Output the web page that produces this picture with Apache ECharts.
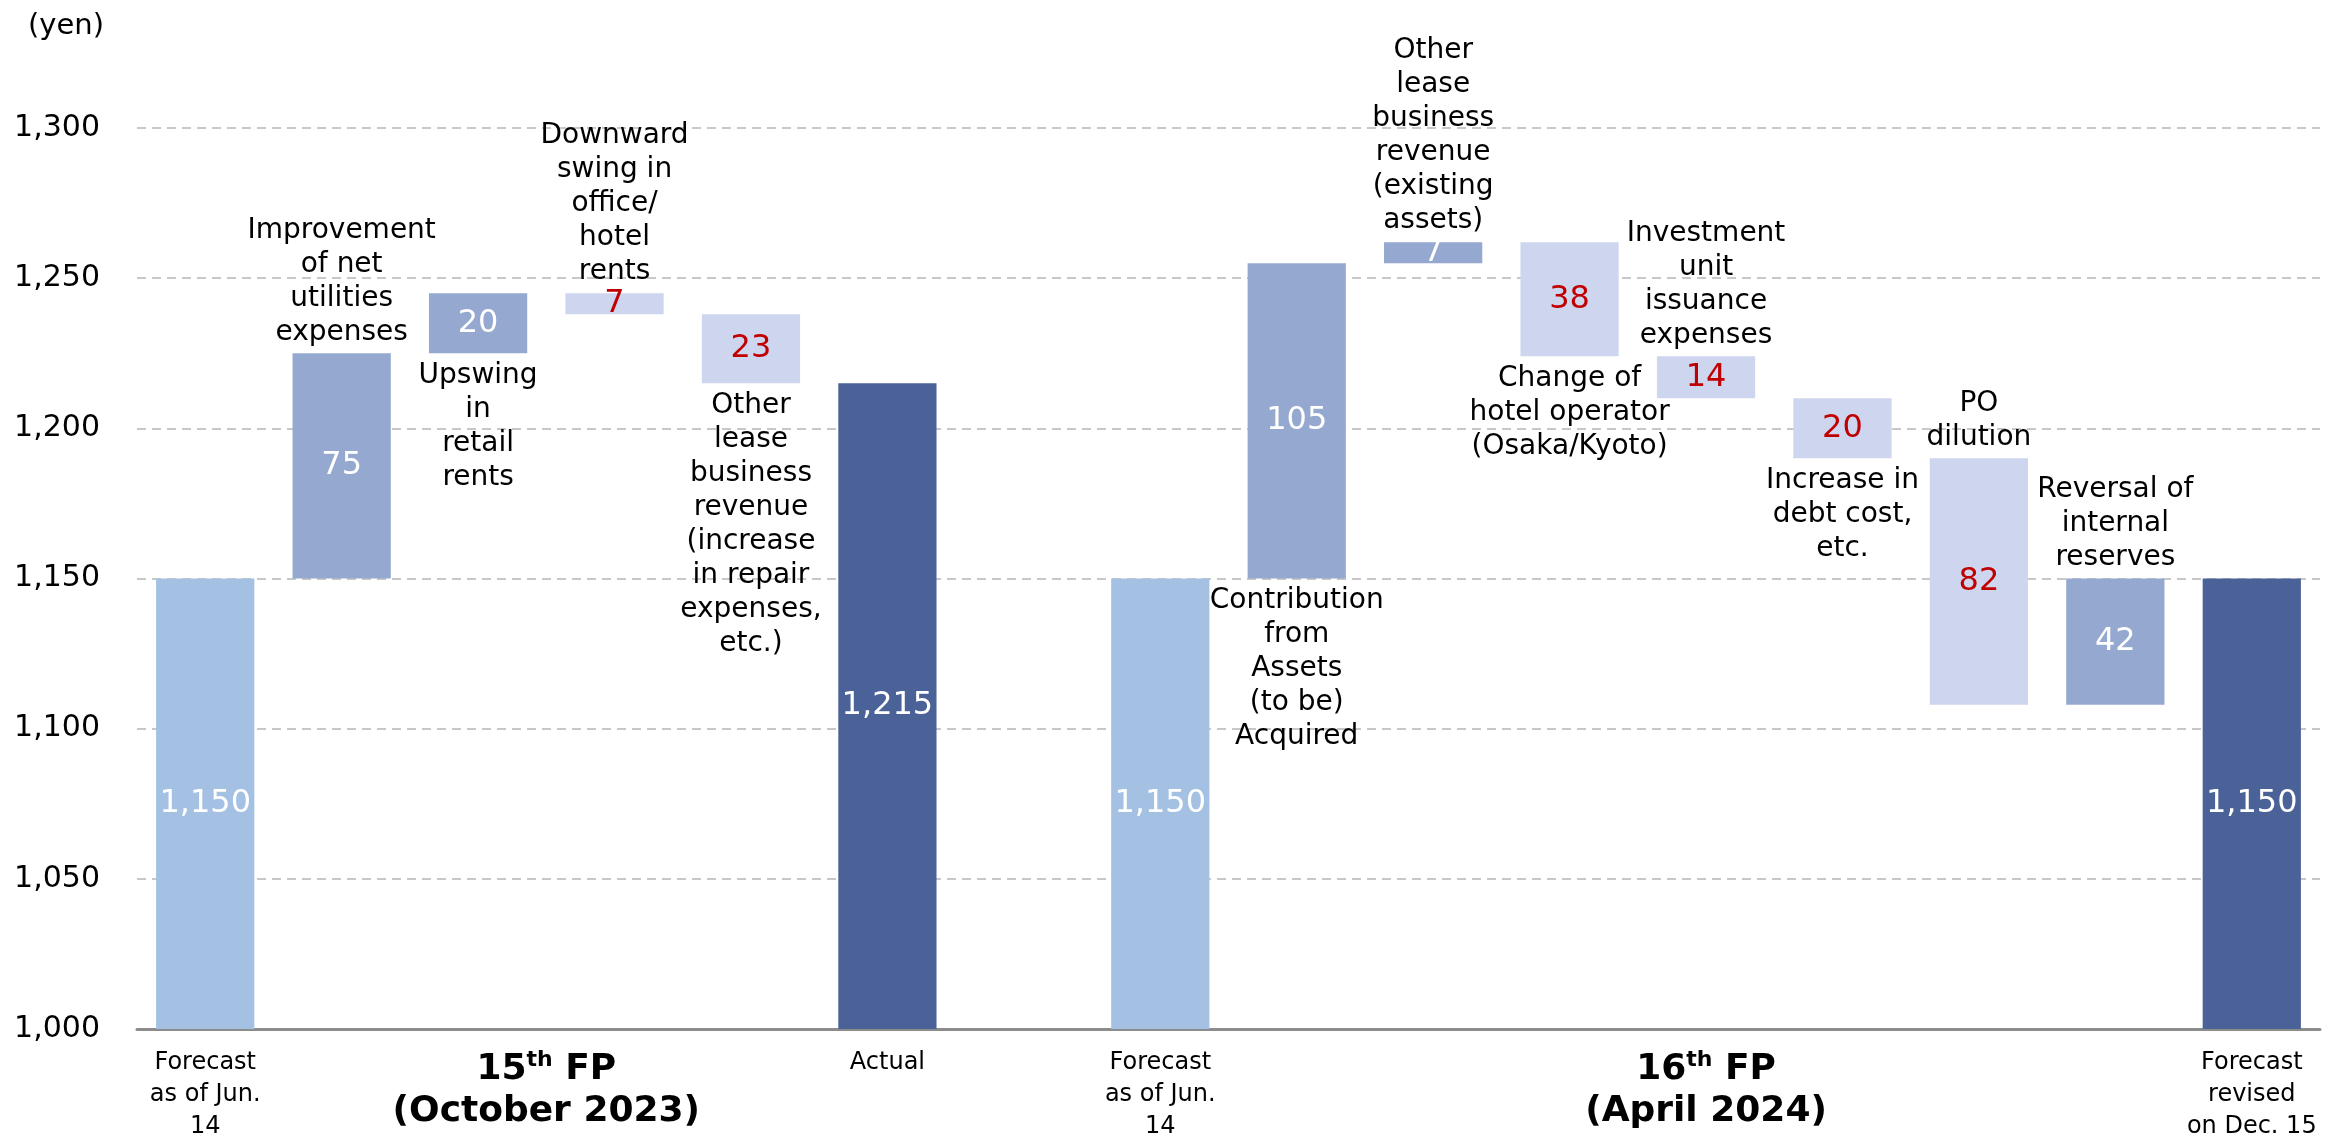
<!DOCTYPE html>
<html>
<head>
<meta charset="utf-8">
<script src="https://cdn.jsdelivr.net/npm/echarts@6/dist/echarts.min.js"></script>
<style>
  html, body { margin: 0; padding: 0; background: #ffffff; }
  #chart { width: 2331px; height: 1146px; }
</style>
</head>
<body>
<div id="chart"></div>
<script>
// Distribution per unit bridge, 15th FP -> 16th FP (yen)
const categories = [
  'Forecast\nas of Jun.\n14', '', '', '', '', 'Actual', '',
  'Forecast\nas of Jun.\n14', '', '', '', '', '', '', '', 'Forecast\nrevised\non Dec. 15'
];
// totals are absolute levels, the rest are changes
const steps = [1150, 75, 20, -7, -23, 1215, null, 1150, 105, 7, -38, -14, -20, -82, 42, 1150];
const kinds = ['start', 'up', 'up', 'down', 'down', 'total', null,
               'start', 'up', 'up', 'down', 'down', 'down', 'down', 'up', 'total'];
const annotations = [
  '', 'Improvement\nof net\nutilities\nexpenses', 'Upswing\nin\nretail\nrents',
  'Downward\nswing in\noffice/\nhotel\nrents',
  'Other\nlease\nbusiness\nrevenue\n(increase\nin repair\nexpenses,\netc.)',
  '', '', '',
  'Contribution\nfrom\nAssets\n(to be)\nAcquired',
  'Other\nlease\nbusiness\nrevenue\n(existing\nassets)',
  'Change of\nhotel operator\n(Osaka/Kyoto)',
  'Investment\nunit\nissuance\nexpenses',
  'Increase in\ndebt cost,\netc.', 'PO\ndilution', 'Reversal of\ninternal\nreserves', ''
];
const periods = [
  { num: '15', suffix: 'th', name: 'FP', sub: '(October 2023)', first: 0, last: 5 },
  { num: '16', suffix: 'th', name: 'FP', sub: '(April 2024)', first: 7, last: 15 }
];
const yTicks = { min: 1000, max: 1300, step: 50 };

// where each note sits relative to its bar
const noteSide = ['', 'top', 'bottom', 'top', 'bottom', '', '', '', 'bottom', 'top', 'bottom', 'top', 'bottom', 'top', 'top', ''];

const COLORS = { start: '#A4C1E4', up: '#94A8D0', down: '#CED5EE', total: '#4A6298' };
const LABEL_COLORS = { start: '#ffffff', up: '#ffffff', down: '#C00000', total: '#ffffff' };
const FONT = 'DejaVu Sans, Verdana, sans-serif';

// running level -> [index, low, high] per slot
const bars = [];
let level = 0;
steps.forEach((v, i) => {
  const k = kinds[i];
  if (k === null) { bars.push([i, null, null]); return; }
  if (k === 'start' || k === 'total') {
    level = v;
    bars.push([i, yTicks.min, v]);
  } else {
    const next = level + v;
    bars.push([i, Math.min(level, next), Math.max(level, next)]);
    level = next;
  }
});

const fmt = v => Number(v).toLocaleString('en-US');

const chart = echarts.init(document.getElementById('chart'), null, { renderer: 'canvas' });

const option = {
  animation: false,
  grid: { left: 137, right: 11, top: 128, bottom: 117, containLabel: false },
  xAxis: {
    type: 'category',
    data: categories,
    axisTick: { show: false },
    axisLine: { lineStyle: { color: '#8C8C8C', width: 3 } },
    axisLabel: {
      interval: 0, margin: 18, color: '#000000',
      fontFamily: FONT, fontSize: 24, lineHeight: 32
    }
  },
  yAxis: {
    type: 'value',
    min: yTicks.min, max: yTicks.max, interval: yTicks.step,
    axisLine: { show: false },
    axisTick: { show: false },
    axisLabel: {
      margin: 37, color: '#000000', fontFamily: FONT, fontSize: 30,
      formatter: v => fmt(v)
    },
    splitLine: { lineStyle: { color: '#C8C8C8', width: 2, type: [9, 6] } }
  },
  series: [{
    type: 'custom',
    clip: false,
    data: bars,
    encode: { x: 0, y: [1, 2] },
    renderItem: (params, api) => {
      const i = params.dataIndex;
      const k = kinds[i];
      if (k === null) return null;
      const lo = api.value(1), hi = api.value(2);
      const [cx, yLo] = api.coord([i, lo]);
      const yHi = api.coord([i, hi])[1];
      const w = api.size([1, 0])[0] * 0.72;
      const children = [{
        type: 'rect',
        shape: { x: cx - w / 2, y: yHi, width: w, height: yLo - yHi },
        style: { fill: COLORS[k] }
      }, {
        type: 'text',
        x: cx, y: (yLo + yHi) / 2,
        style: {
          text: fmt(Math.abs(steps[i])), fill: LABEL_COLORS[k],
          fontFamily: FONT, fontSize: 32, align: 'center', verticalAlign: 'middle'
        },
        z2: 10
      }];
      if (annotations[i]) {
        const above = noteSide[i] === 'top';
        children.push({
          type: 'text',
          x: cx, y: above ? yHi - 4 : yLo + 5,
          style: {
            text: annotations[i], fill: '#000000',
            fontFamily: FONT, fontSize: 28, lineHeight: 34,
            align: 'center', verticalAlign: above ? 'bottom' : 'top'
          },
          z2: 10
        });
      }
      return { type: 'group', children };
    }
  }]
};

chart.setOption(option);

// period captions under the axis and the unit caption, placed from the axis scale
const axisY = chart.convertToPixel({ yAxisIndex: 0 }, yTicks.min);
const slotX = i => chart.convertToPixel({ xAxisIndex: 0 }, i);
const graphics = periods.map(p => {
  const x0 = (slotX(p.first) + slotX(p.last)) / 2;
  return {
    type: 'text',
    x: x0, y: axisY + 20,
    style: {
      text: '{b|' + p.num + '}{s|' + p.suffix + '}{b| ' + p.name + '}\n{b|' + p.sub + '}',
      align: 'center', verticalAlign: 'top',
      rich: {
        b: { fontFamily: FONT, fontWeight: 'bold', fontSize: 36, lineHeight: 42, fill: '#000000' },
        s: { fontFamily: FONT, fontWeight: 'bold', fontSize: 22, lineHeight: 42, fill: '#000000', verticalAlign: 'top', padding: [0, 0, 14, 0] }
      }
    }
  };
});
graphics.push({
  type: 'text',
  x: 66, y: 26,
  style: {
    text: '(yen)', fill: '#000000', fontFamily: FONT, fontSize: 29,
    align: 'center', verticalAlign: 'middle'
  }
});
chart.setOption({ graphic: graphics });
</script>
</body>
</html>
